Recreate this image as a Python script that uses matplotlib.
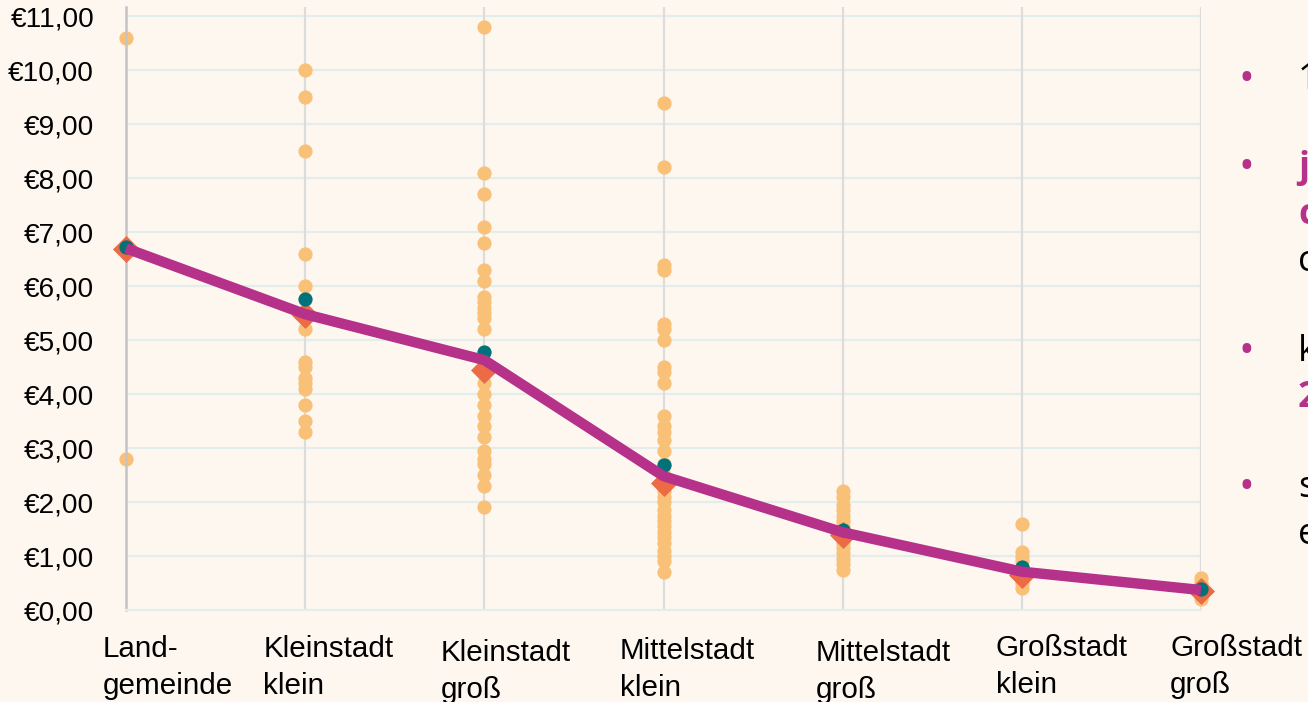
import matplotlib
matplotlib.use("Agg")
import matplotlib.pyplot as plt
import matplotlib.transforms as mtransforms
from matplotlib.ticker import FuncFormatter

# ---------------- data ----------------
categories = ["Land-\ngemeinde", "Kleinstadt\nklein", "Kleinstadt\ngroß",
              "Mittelstadt\nklein", "Mittelstadt\ngroß", "Großstadt\nklein",
              "Großstadt\ngroß"]

dots_land = [10.6, 6.7, 2.8]
dots_kl_klein = [10.0, 9.5, 8.5, 6.6, 6.0, 5.45, 5.2, 4.6, 4.5, 4.3, 4.2,
                 4.1, 3.8, 3.5, 3.3]
dots_kl_gross = [10.8, 8.1, 7.7, 7.1, 6.8, 6.3, 6.1, 5.8, 5.7, 5.6, 5.5,
                 5.4, 5.2, 4.6, 4.5, 4.2, 4.0, 3.8, 3.6, 3.4, 3.2, 2.95,
                 2.8, 2.7, 2.5, 2.3, 1.9]
dots_mi_klein = [9.4, 8.2, 6.4, 6.3, 5.3, 5.2, 5.0, 4.5, 4.4, 4.2, 3.6,
                 3.4, 3.3, 3.15, 2.95, 2.7, 2.5, 2.2, 2.1, 2.0, 1.85, 1.75,
                 1.65, 1.55, 1.45, 1.35, 1.25, 1.1, 1.0, 0.9, 0.7]
dots_mi_gross = [2.2, 2.1, 1.95, 1.85, 1.75, 1.65, 1.55, 1.45, 1.35, 1.25,
                 1.15, 1.05, 0.95, 0.85, 0.75]
dots_gr_klein = [1.6, 1.07, 0.98, 0.9, 0.8, 0.7, 0.6, 0.5, 0.4]
dots_gr_gross = [0.6, 0.5, 0.45, 0.35, 0.3, 0.2]
dot_groups = [dots_land, dots_kl_klein, dots_kl_gross, dots_mi_klein,
              dots_mi_gross, dots_gr_klein, dots_gr_gross]

means = [6.72, 5.76, 4.78, 2.68, 1.48, 0.80, 0.39]
medians = [6.69, 5.46, 4.44, 2.35, 1.39, 0.64, 0.36]
trend = [6.70, 5.48, 4.63, 2.48, 1.44, 0.71, 0.37]

yticks = list(range(0, 12))

# side text fragments (cut off at right edge of slide)
side_lines = [("1", "black", "normal"), ("j", "#B5318A", "bold"),
              ("c", "#B5318A", "bold"), ("c", "black", "normal"),
              ("k", "black", "normal"), ("2", "#B5318A", "bold"),
              ("s", "black", "normal"), ("e", "black", "normal")]

# ---------------- style ----------------
BG = "#FDF7F0"
DOT = "#F9C178"
TEAL = "#00727A"
ORANGE = "#EC6B44"
MAGENTA = "#B5318A"
GRID_H = "#E3EDEA"
GRID_V = "#DCDCDA"

plt.rcParams["font.family"] = ["Liberation Sans", "DejaVu Sans"]

W, H = 1308, 702
fig = plt.figure(figsize=(W / 100, H / 100), dpi=100, facecolor=BG)
ax = fig.add_axes([126 / W, (H - 610) / H, (1201 - 126) / W, (610 - 7) / H])
ax.set_facecolor(BG)

xs = list(range(len(categories)))
ax.set_xlim(0, len(categories) - 1)
ax.set_ylim(0, 11.17)

for y in yticks[1:]:
    ax.axhline(y, color=GRID_H, lw=1.6, zorder=0)
for x in xs[1:]:
    ax.axvline(x, color=GRID_V, lw=1.6, zorder=0.5)

for x, grp in zip(xs, dot_groups):
    ax.scatter([x] * len(grp), grp, s=105, color=DOT, zorder=2,
               linewidths=0, clip_on=False)

ax.scatter(xs, medians, marker="D", s=190, color=ORANGE, zorder=3,
           linewidths=0, clip_on=False)
ax.scatter(xs, means, s=105, color=TEAL, zorder=4, linewidths=0,
           clip_on=False)
ax.plot(xs, trend, color=MAGENTA, lw=7.5, zorder=5, clip_on=False,
        solid_joinstyle="miter", solid_capstyle="butt")

for s in ["top", "right"]:
    ax.spines[s].set_visible(False)
ax.spines["left"].set_color("#C4C4C4")
ax.spines["left"].set_linewidth(1.8)
ax.spines["bottom"].set_color(GRID_H)
ax.spines["bottom"].set_linewidth(1.6)

ax.set_yticks(yticks)
ax.yaxis.set_major_formatter(FuncFormatter(lambda v, p: "€" + f"{v:.2f}".replace(".", ",")))
ax.tick_params(axis="y", length=0, pad=23, labelsize=20.2, labelcolor="black")
ax.set_xticks(xs)
ax.set_xticklabels([])
ax.tick_params(axis="x", length=0)

# x labels: left aligned blocks below the axis
label_dx = [-23, -42, -44, -44, -27, -26, -31]
label_dy = [0, 0, 4, 2, 4, -1, -1]
base = mtransforms.blended_transform_factory(ax.transData, fig.transFigure)
for x, lab, dx, dy in zip(xs, categories, label_dx, label_dy):
    tr = base + mtransforms.Affine2D().translate(dx, -dy)
    ax.text(x, (H - 635) / H, lab, transform=tr, ha="left", va="top",
            fontsize=21.3, linespacing=1.42, color="black", clip_on=False)

# right side bullet text (cut off)
line_y = [80, 168, 215, 262, 352, 398, 488, 535]
bullet_y = [80, 168, 352, 488]
for by in bullet_y:
    fig.text(1246 / W, (H - by) / H, "•", color=MAGENTA, fontsize=30,
             ha="center", va="center", family=["Open Sans", "DejaVu Sans"])
for (txt, col, wt), ly in zip(side_lines, line_y):
    fig.text(1298 / W, (H - ly) / H, txt, color=col, fontweight=wt,
             fontsize=26, ha="left", va="center",
             family=["Open Sans", "DejaVu Sans"])

fig.savefig("out.png", dpi=100, facecolor=BG)
